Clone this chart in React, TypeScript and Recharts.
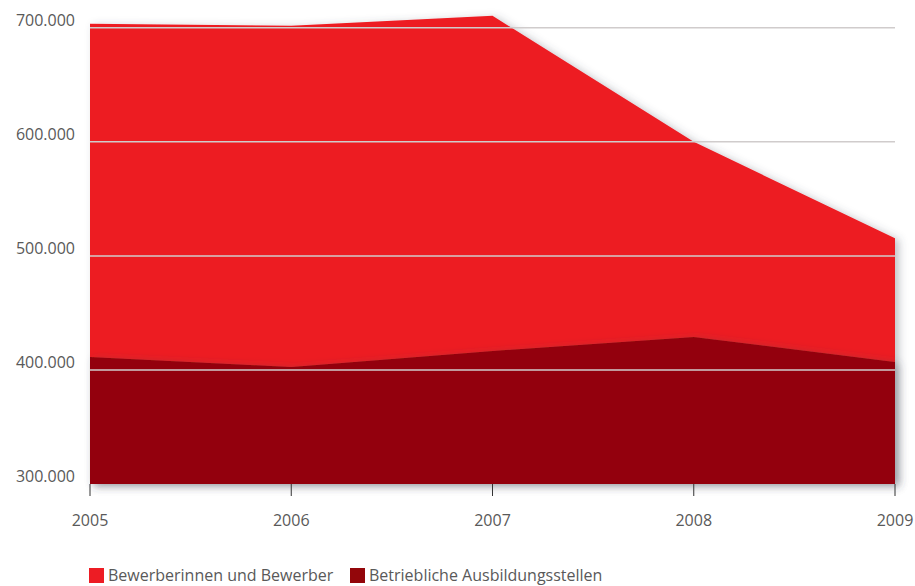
import { Area, AreaChart, ReferenceLine, XAxis, YAxis } from 'recharts'

const years = ['2005', '2006', '2007', '2008', '2009']
const bewerber = [703500, 701800, 710500, 600000, 515500]
const ausbildungsstellen = [411400, 402600, 416700, 429000, 407000]
const yTicks = [300000, 400000, 500000, 600000, 700000]
const gridTicks = [400000, 500000, 600000, 700000]

const data = years.map((year, i) => ({
  year,
  bewerber: bewerber[i],
  stellen: ausbildungsstellen[i],
}))

const FONT = '"Open Sans", "Noto Sans", sans-serif'
const TEXT = '#595959'
const RED = '#ED1C24'
const DARK = '#93060A'

const fmt = (n: number) => new Intl.NumberFormat('de-DE').format(n)

function YTick(props: any) {
  const { y, payload } = props
  return (
    <text x={75} y={y - 8} textAnchor="end" dominantBaseline="central" fill={TEXT} fontSize={16} fontFamily={FONT}>
      {fmt(Number(payload.value))}
    </text>
  )
}

function XTick(props: any) {
  const { x, y, payload } = props
  return (
    <text x={x} y={y + 22} textAnchor="middle" dominantBaseline="central" fill={TEXT} fontSize={16} fontFamily={FONT}>
      {payload.value}
    </text>
  )
}

export default function App() {
  return (
    <div style={{ position: 'absolute', left: 0, top: 0, width: 915, height: 586, background: '#fff' }}>
      <AreaChart width={915} height={586} data={data} margin={{ top: 5, right: 20, bottom: 62, left: 0 }}>
        <defs>
          <filter id="shadow" x="-10%" y="-10%" width="120%" height="130%">
            <feDropShadow dx={4} dy={2} stdDeviation={4} floodColor="#4a5060" floodOpacity={0.35} />
          </filter>
        </defs>
        <XAxis
          dataKey="year"
          axisLine={false}
          tickLine={{ stroke: '#333', strokeWidth: 1 }}
          tickSize={12}
          height={40}
          tick={<XTick />}
          interval={0}
        />
        <YAxis
          domain={[300000, 720000]}
          ticks={yTicks}
          axisLine={false}
          tickLine={false}
          width={90}
          tick={<YTick />}
        />
        <Area
          type="linear"
          dataKey="bewerber"
          stroke="none"
          fill={RED}
          fillOpacity={1}
          filter="url(#shadow)"
          isAnimationActive={false}
        />
        <Area
          type="linear"
          dataKey="stellen"
          stroke="none"
          fill={DARK}
          fillOpacity={1}
          filter="url(#shadow)"
          isAnimationActive={false}
        />
        {gridTicks.map((v) => (
          <ReferenceLine key={v} y={v} stroke="#d0cccc" strokeWidth={1.5} />
        ))}
      </AreaChart>
      <div
        style={{
          position: 'absolute',
          left: 89,
          top: 566,
          display: 'flex',
          alignItems: 'center',
          fontFamily: FONT,
          fontSize: 16,
          color: TEXT,
          lineHeight: '18px',
        }}
      >
        <span style={{ width: 15, height: 15, background: RED, display: 'inline-block', marginRight: 4 }} />
        <span style={{ width: 242 }}>Bewerberinnen und Bewerber</span>
        <span style={{ width: 15, height: 15, background: DARK, display: 'inline-block', marginRight: 4 }} />
        <span>Betriebliche Ausbildungsstellen</span>
      </div>
    </div>
  )
}
